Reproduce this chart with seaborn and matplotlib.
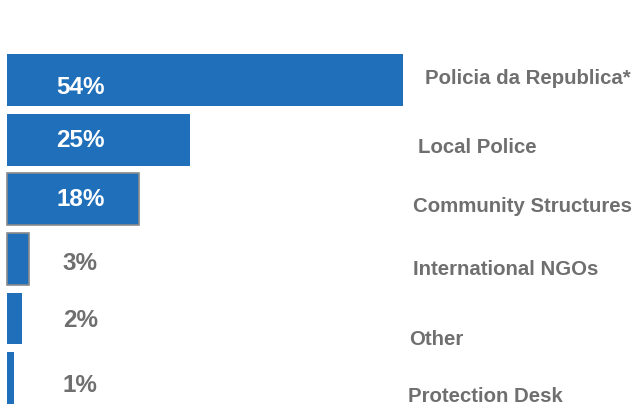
import matplotlib
matplotlib.use("Agg")
import matplotlib.pyplot as plt
import seaborn as sns
import pandas as pd

categories = ["Policia da Republica*", "Local Police", "Community Structures",
              "International NGOs", "Other", "Protection Desk"]
values = [54, 25, 18, 3, 2, 1]
pct_labels = ["54%", "25%", "18%", "3%", "2%", "1%"]

sns.set_theme(style="white")
plt.rcParams['font.family'] = ['Liberation Sans', 'DejaVu Sans']

BLUE = "#1F6FBA"
GREY = "#6F6F6F"

df = pd.DataFrame({"category": categories, "value": values})

fig = plt.figure(figsize=(6.36, 4.06), dpi=100)
ax = fig.add_axes([0, 0, 1, 1])
sns.barplot(data=df, y="category", x="value", orient="h", color=BLUE,
            saturation=1, width=0.87, ax=ax)

# grey edges on the middle bars as in reference
for i, p in enumerate(ax.patches):
    if i in (2, 3):
        p.set_edgecolor("#8A8A8A")
        p.set_linewidth(1.2)
    else:
        p.set_linewidth(0)

ax.set_xlim(-0.955, 85.8)
ax.set_ylim(5.45, -1.36)
ax.axis("off")

# percentage labels
pct_dy = [0.10, 0.0, -0.02, 0.06, 0.01, 0.10]
for i, lab in enumerate(pct_labels):
    col = "white" if i < 3 else GREY
    ax.text(10.0, i + pct_dy[i], lab, ha="center", va="center",
            fontsize=17.5, fontweight="bold", color=col)

# category labels at right
cat_x = [57.0, 56.1, 55.4, 55.4, 54.8, 54.7]
cat_dy = [-0.04, 0.11, 0.10, 0.16, 0.34, 0.29]
for i, cat in enumerate(categories):
    ax.text(cat_x[i], i + cat_dy[i], cat, ha="left", va="center",
            fontsize=14.7, fontweight="bold", color=GREY)

fig.savefig("out.png", dpi=100)
